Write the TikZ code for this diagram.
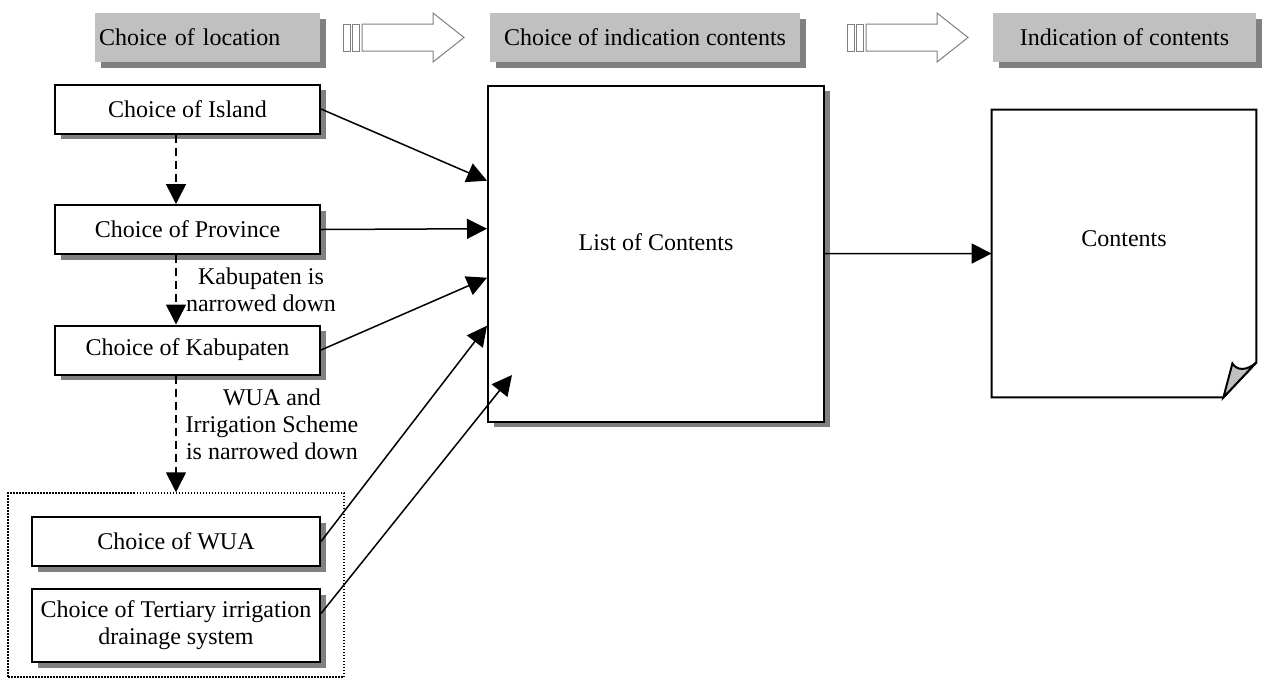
\documentclass[tikz,border=0pt]{standalone}
\usepackage{fontspec}
\setmainfont{Liberation Serif}
\usetikzlibrary{arrows.meta,shadows,calc}

\definecolor{stagegray}{RGB}{192,192,192}

\begin{document}
\begin{tikzpicture}[x=0.5pt, y=-0.5pt, font=\fontsize{12}{13.5}\selectfont,
    boxshadow/.style={drop shadow={opacity=1, fill=black!50, shadow xshift=2.75pt, shadow yshift=-2.75pt}},
    stage/.style={fill=stagegray, minimum height=24.5pt, inner sep=2pt, boxshadow},
    choice/.style={draw, line width=1pt, fill=white, minimum width=132.5pt, minimum height=24.5pt, align=center, boxshadow},
    conn/.style={line width=0.75pt, -{Triangle[length=10pt,width=10pt]}},
    narrow/.style={conn, dash pattern=on 4pt off 2.5pt},
    blockarrow/.style={draw=black!50, line width=0.5pt, fill=white}]

    \useasboundingbox (0,0) rectangle (1262,687);

    % Stages along the top
    \node[stage, text width=108.5pt, align=left] (hd1) at (207.5,37.5) {Choice of location};
    \node[stage, minimum width=155pt] (hd2) at (645,37.5) {Choice of indication contents};
    \node[stage, minimum width=131.5pt] (hd3) at (1124.5,37.5) {Indication of contents};

    \foreach \ax in {343,847} {
        \begin{scope}[shift={(\ax,0)}]
            \draw[blockarrow] (0,24) rectangle (7,51);
            \draw[blockarrow] (9,24) rectangle (16,51);
            \draw[blockarrow] (19,24) -- (90,24) -- (90,13) -- (121,37.5) -- (90,62) -- (90,51) -- (19,51) -- cycle;
        \end{scope}
    }

    % Choice of location
    \node[draw, dash pattern=on 0.75pt off 0.75pt, line width=0.75pt, minimum width=168pt, minimum height=92pt] (grp) at (176,585) {};

    \node[choice] (isl) at (187.5,109) {Choice of Island};
    \node[choice] (prv) at (187.5,229.5) {Choice of Province};
    \node[choice] (kab) at (187.5,350) {Choice of Kabupaten};
    \node[choice, minimum width=144pt] (wua) at (176,541.5) {Choice of WUA};
    \node[choice, minimum width=144pt, minimum height=36.5pt] (ter) at (176,625.5) {Choice of Tertiary irrigation\\drainage system};

    \draw[narrow] (isl.south -| grp.north) -- (prv.north -| grp.north);
    \draw[narrow] (prv.south -| grp.north) -- (kab.north -| grp.north);
    \draw[narrow] (kab.south -| grp.north) -- (grp.north);

    \node[align=center] (lbkab) at (261,290) {Kabupaten is\\narrowed down};
    \node[align=center] (lbwua) at (272,424.5) {WUA and\\Irrigation Scheme\\is narrowed down};

    % List and contents
    \node[draw, line width=1pt, fill=white, boxshadow, minimum width=168pt, minimum height=168pt,
        text height=8.5pt, text depth=11.5pt] (lst) at (656,253.7) {List of Contents};

    \node[minimum width=132pt, minimum height=143.5pt, text height=8.5pt, text depth=16pt] (cnt) at (1124,253.5) {Contents};
    \draw[line width=1pt] (cnt.north west) -- (cnt.north east) -- ($(cnt.south east)+(0,-35)$)
        -- ($(cnt.south east)+(-33,0)$) -- (cnt.south west) -- cycle;
    \draw[line width=1pt, fill=stagegray] ($(cnt.south east)+(-33,0)$) -- ($(cnt.south east)+(0,-35)$)
        .. controls ($(cnt.south east)+(-10,-26)$) and ($(cnt.south east)+(-20,-27)$) .. ($(cnt.south east)+(-24,-34)$) -- cycle;

    % Connections
    \coordinate (tend) at (512,375);
    \draw[conn] (isl.east) -- ([yshift=-48pt]lst.north west);
    \draw[conn] (prv.east) -- ([yshift=-72pt]lst.north west);
    \draw[conn] (kab.east) -- ([yshift=-96.5pt]lst.north west);
    \draw[conn] (wua.east) -- ([yshift=-120.5pt]lst.north west);
    \draw[conn] ([yshift=6pt]ter.east) -- (tend);
    \draw[conn] (lst.east) -- (cnt.west);

\end{tikzpicture}
\end{document}
